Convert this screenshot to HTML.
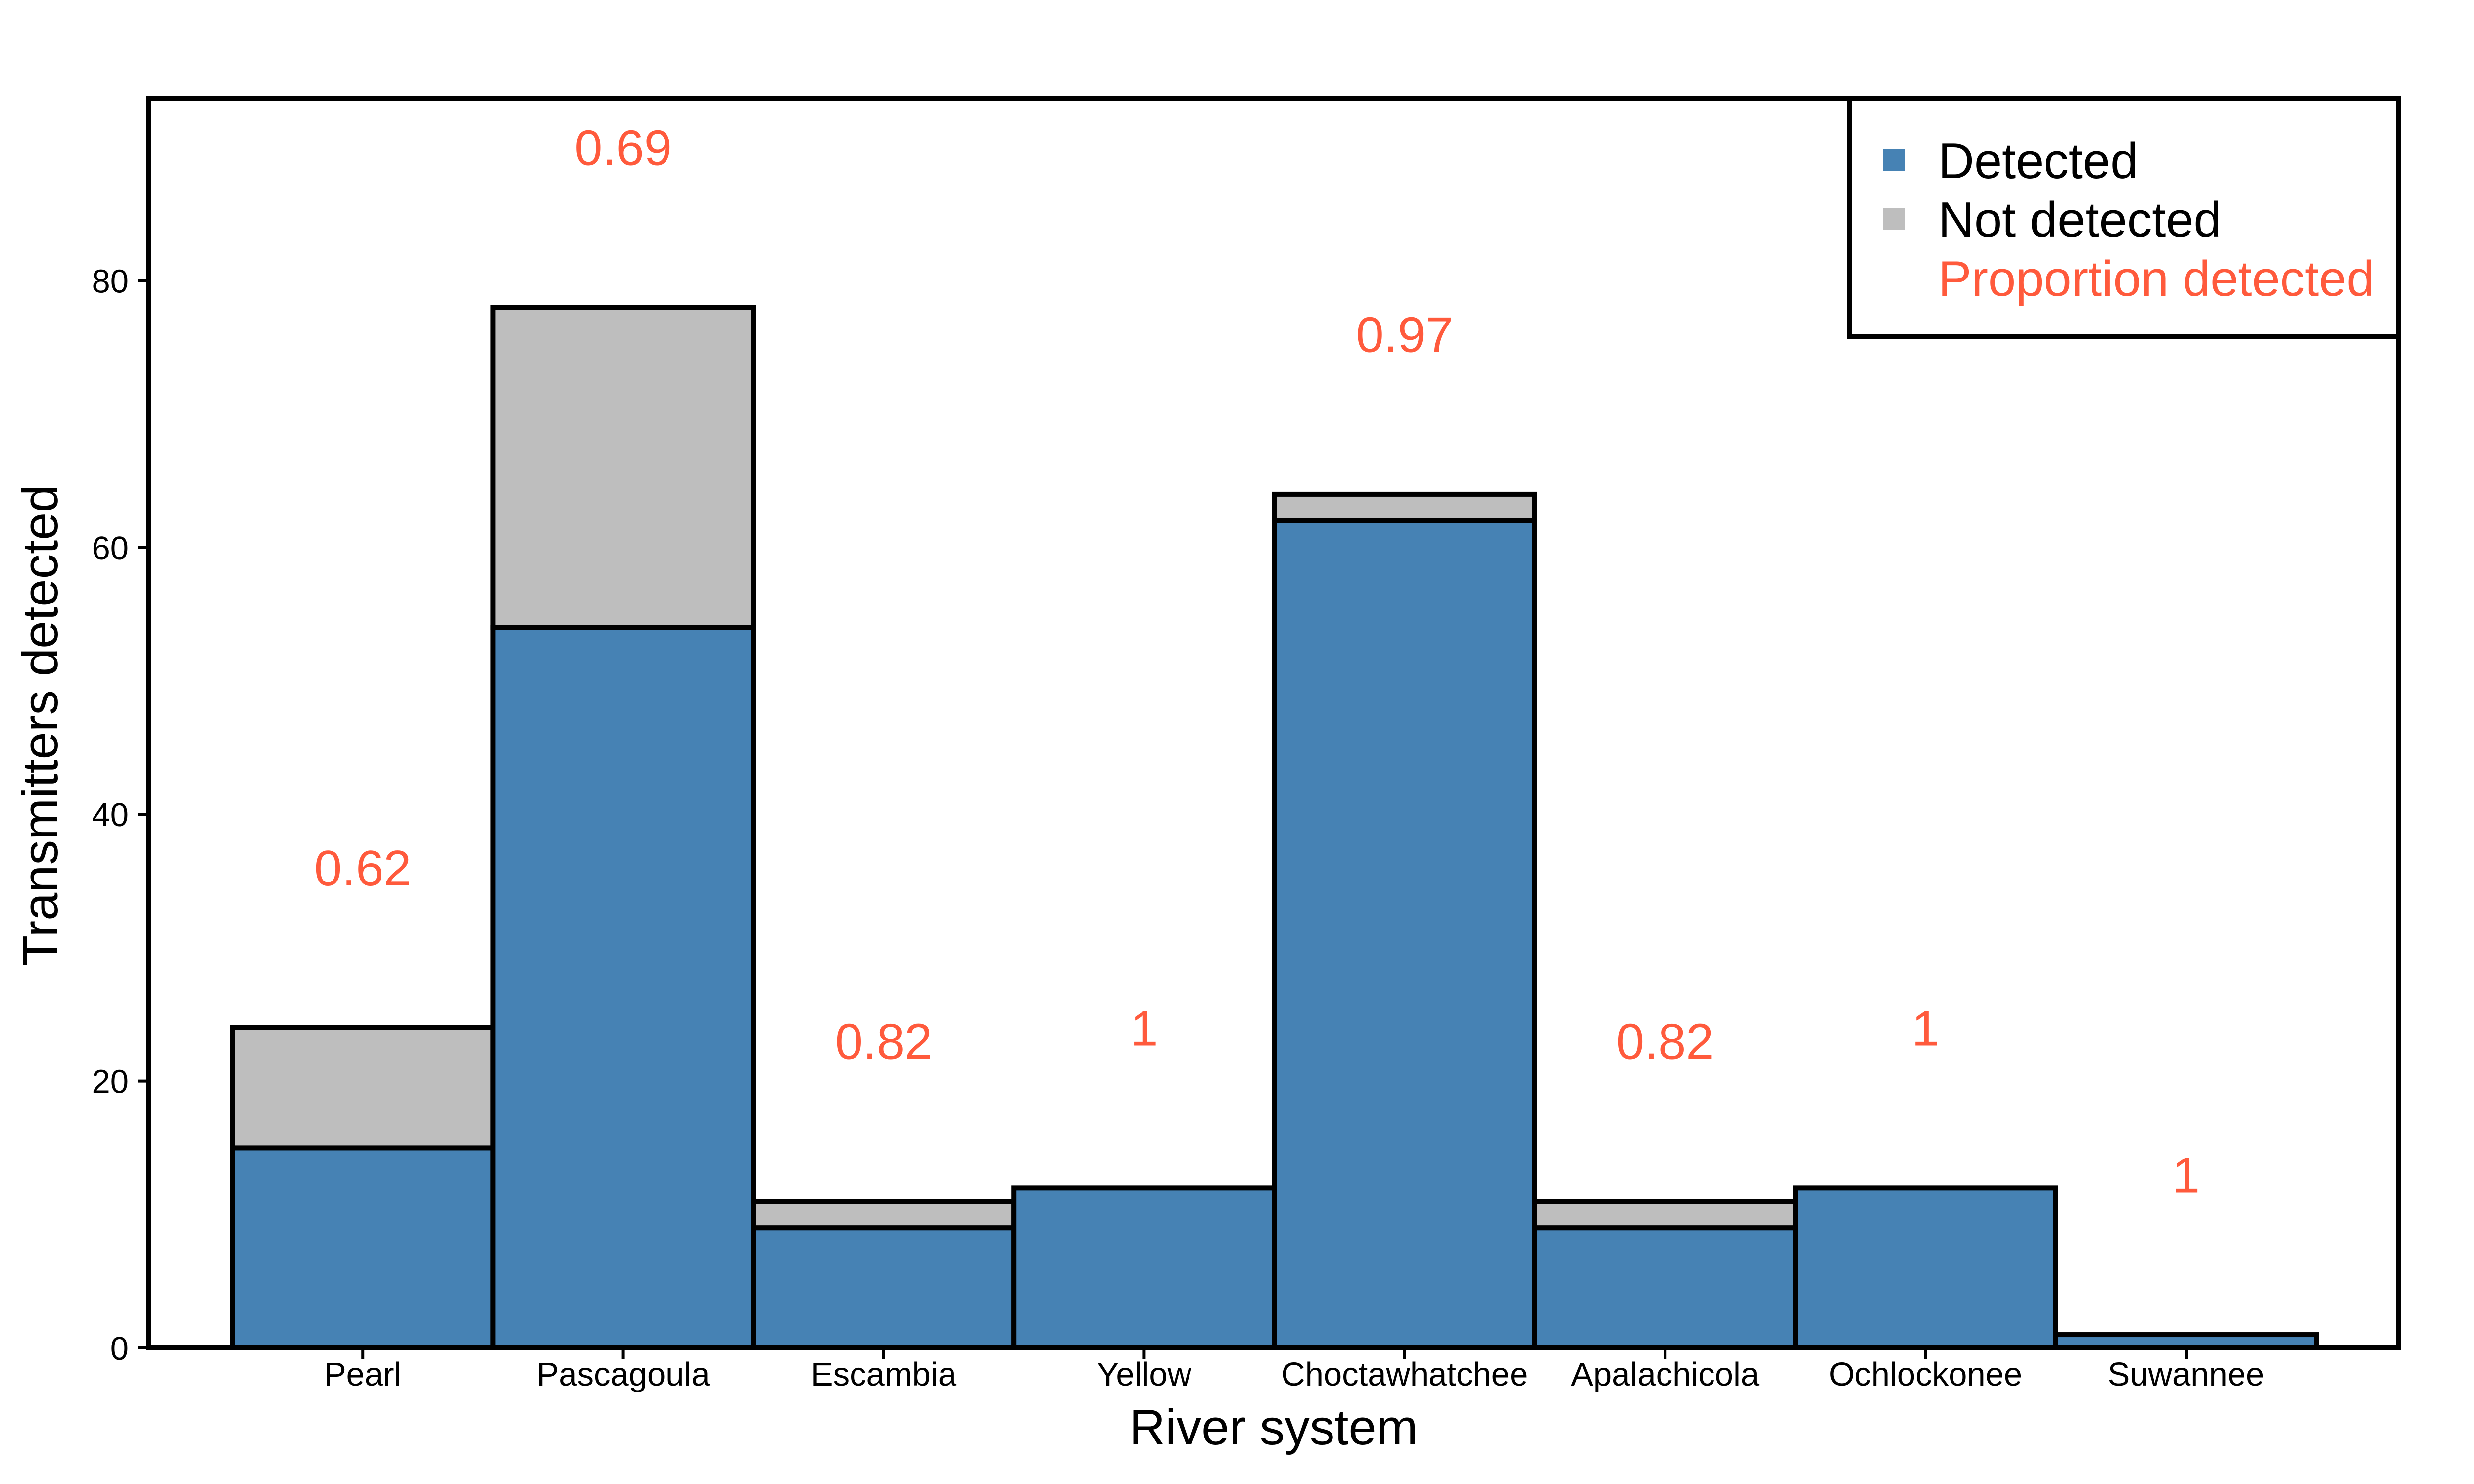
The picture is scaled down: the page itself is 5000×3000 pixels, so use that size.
<!DOCTYPE html>
<html><head><meta charset="utf-8"><style>
html,body{margin:0;padding:0;background:#fff;}
svg{display:block;font-family:"Liberation Sans",Arial,sans-serif;}
</style></head><body>
<svg id="chart" width="5000" height="3000" viewBox="0 0 5000 3000" xmlns="http://www.w3.org/2000/svg">
<rect width="5000" height="3000" fill="#fff"/>
<g id="bars"></g>
<g id="labels"></g>
<g id="axes"></g>
<rect x="300" y="200" width="4548" height="2525" fill="none" stroke="#000" stroke-width="10"/>
<text x="2574" y="2920" font-size="101" text-anchor="middle">River system</text>
<text transform="translate(116,1466) rotate(-90)" font-size="101" text-anchor="middle">Transmitters detected</text>
<g>
<rect x="3737" y="200" width="1111" height="480" fill="#fff" stroke="#000" stroke-width="10"/>
<rect x="3806" y="301" width="44" height="44" fill="#4682b4"/>
<text x="3917" y="360" font-size="101">Detected</text>
<rect x="3806" y="420" width="44" height="44" fill="#bebebe"/>
<text x="3917" y="479" font-size="101">Not detected</text>
<text x="3917" y="598" font-size="101" fill="#ff5a3c">Proportion detected</text>
</g>
</svg>
<script>
const categories = ["Pearl","Pascagoula","Escambia","Yellow","Choctawhatchee","Apalachicola","Ochlockonee","Suwannee"];
const detected = [15,54,9,12,62,9,12,1];
const totals = [24,78,11,12,64,11,12,1];
const proportions = ["0.62","0.69","0.82","1","0.97","0.82","1","1"];
const yTicks = [0,20,40,60,80];

const NS="http://www.w3.org/2000/svg";
const x0=470, bw=526.4, yBase=2725, perUnit=26.97;
function xPos(i){return x0+i*bw;}
function yPos(v){return yBase-v*perUnit;}
function mk(tag,attrs,parent){const e=document.createElementNS(NS,tag);for(const k in attrs)e.setAttribute(k,attrs[k]);parent.appendChild(e);return e;}
const gb=document.getElementById('bars'),gl=document.getElementById('labels'),ga=document.getElementById('axes');
categories.forEach((c,i)=>{
  const x=xPos(i);
  const g=mk('rect',{x:x,y:yPos(totals[i]),width:bw,height:yPos(detected[i])-yPos(totals[i]),fill:'#bebebe',stroke:'#000','stroke-width':10},gb);
  
  
  const b=mk('rect',{x:x,y:yPos(detected[i]),width:bw,height:yBase-yPos(detected[i]),fill:'#4682b4',stroke:'#000','stroke-width':10},gb);
  
  
  const t=mk('text',{x:x+bw/2,y:yPos(totals[i]+12)+36,'font-size':101,'text-anchor':'middle',fill:'#ff5a3c'},gl);
  t.textContent=proportions[i];
  
  
  const tk=mk('line',{x1:x+bw/2,x2:x+bw/2,y1:yBase,y2:yBase+22,stroke:'#000','stroke-width':6},ga);
  
  
  const tl=mk('text',{x:x+bw/2,y:yBase+76,'font-size':67,'text-anchor':'middle'},ga);
  tl.textContent=c;
  
  
});
yTicks.forEach(v=>{
  const tk=mk('line',{x1:278,x2:300,y1:yPos(v),y2:yPos(v),stroke:'#000','stroke-width':6},ga);
  
  
  const tl=mk('text',{x:260,y:yPos(v)+24,'font-size':67,'text-anchor':'end'},ga);
  tl.textContent=v;
  
  
});
</script>
</body></html>
